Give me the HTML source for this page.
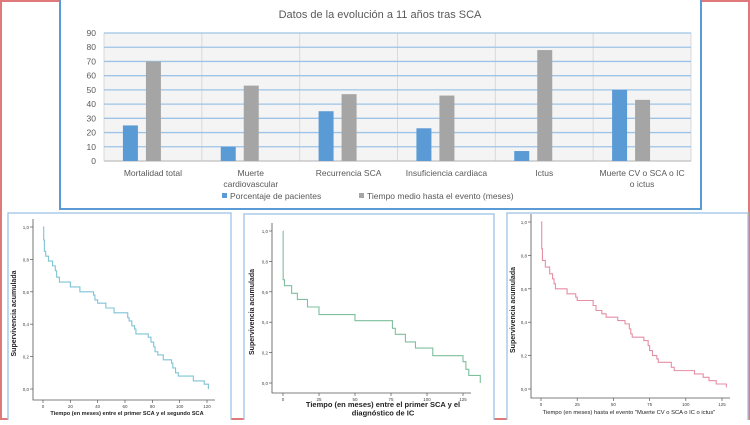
<!DOCTYPE html>
<html><head><meta charset="utf-8">
<style>
html,body{margin:0;padding:0;background:#fff;}
body{width:750px;height:420px;overflow:hidden;font-family:"Liberation Sans",sans-serif;}
svg text{font-family:"Liberation Sans",sans-serif;}
</style></head>
<body>
<svg id="s" width="750" height="420" xmlns="http://www.w3.org/2000/svg">
<rect x="1" y="1" width="748" height="418" fill="#fff" stroke="#e07a7a" stroke-width="2"/>
<g id="bar">
<rect x="60" y="-2" width="641" height="211" fill="#fff" stroke="#5b9bd5" stroke-width="2"/>
<text x="380" y="18" text-anchor="middle" font-size="11" fill="#595959">Datos de la evolución a 11 años tras SCA</text>
</g>
<g id="km1"></g>
<g id="km2"></g>
<g id="km3"></g>
</svg>
<script>
var categories=[["Mortalidad total"],["Muerte","cardiovascular"],["Recurrencia SCA"],["Insuficiencia cardiaca"],["Ictus"],["Muerte CV o SCA o IC","o ictus"]];
var pctValues=[25,10,35,23,7,50];
var timeValues=[70,53,47,46,78,43];
var yTicks=[0,10,20,30,40,50,60,70,80,90];

var km1Times=[0,0.5,1,2,4,7,9,10,12,20,27,37,38,40,46,52,62,63,65,67,68,77,79,81,82,84,88,94,95,97,99,110,118,121];
var km1Surv=[1,0.92,0.85,0.82,0.79,0.76,0.73,0.69,0.66,0.63,0.60,0.58,0.55,0.53,0.50,0.47,0.44,0.42,0.39,0.37,0.34,0.32,0.29,0.26,0.23,0.21,0.18,0.16,0.13,0.10,0.08,0.05,0.03,0.0];
var km1XTicks=[0,20,40,60,80,100,120];
var km2Times=[0,0.1,1,6,10,17,25,50,76,78,85,92,104,125,127,129,137];
var km2Surv=[1,0.68,0.64,0.59,0.55,0.50,0.45,0.41,0.36,0.32,0.27,0.23,0.18,0.14,0.09,0.05,0.0];
var km2XTicks=[0,25,50,75,100,125];
var km3Times=[0,0.5,1,3,6,8,9,10,18,24,25,36,38,42,45,53,58,61,62,63,71,74,75,77,80,81,90,92,106,112,116,121,128];
var km3Surv=[1,0.84,0.77,0.73,0.69,0.66,0.63,0.60,0.57,0.55,0.53,0.50,0.47,0.45,0.43,0.41,0.39,0.36,0.33,0.31,0.29,0.26,0.23,0.20,0.18,0.16,0.13,0.11,0.09,0.07,0.05,0.03,0.01];
var km3XTicks=[0,25,50,75,100,125];
var kmYTicks=["0,0","0,2","0,4","0,6","0,8","1,0"];

var NS="http://www.w3.org/2000/svg";
function mk(parent,tag,attrs,txt){var e=document.createElementNS(NS,tag);for(var k in attrs)e.setAttribute(k,attrs[k]);if(txt!==undefined)e.textContent=txt;parent.appendChild(e);return e;}

// Bar chart
(function(){
var g=document.getElementById('bar');
var L=104,R=691,T=33,B=161;
function y(v){return B-(v/90)*(B-T);}
var cw=(R-L)/categories.length;
function cx(i){return L+cw*(i+0.5);}
var bg=mk(g,'rect',{x:L,y:T,width:R-L,height:B-T,fill:'#f4f4f4'});


for(var i=0;i<=categories.length;i++){var l=mk(g,'line',{x1:L+cw*i,x2:L+cw*i,y1:T,y2:B,stroke:'#d9d9d9','stroke-width':1});

}
yTicks.forEach(function(t){
var l=mk(g,'line',{x1:L,x2:R,y1:y(t),y2:y(t),stroke:t===0?'#bfbfbf':'#9dc3e6','stroke-width':1.3});


var tx=mk(g,'text',{x:96,y:y(t)+3,'text-anchor':'end','font-size':8.5,fill:'#595959'},t);


});
categories.forEach(function(c,i){
var b=mk(g,'rect',{x:cx(i)-30,y:y(pctValues[i]),width:15,height:B-y(pctValues[i]),fill:'#5b9bd5'});


var b2=mk(g,'rect',{x:cx(i)-7,y:y(timeValues[i]),width:15,height:B-y(timeValues[i]),fill:'#a5a5a5'});


c.forEach(function(line,j){
var t=mk(g,'text',{x:cx(i),y:176+j*11,'text-anchor':'middle','font-size':8.5,fill:'#595959'},line);


});
});
var lg=mk(g,'g',{});


var s1=mk(lg,'rect',{x:222,y:193,width:5,height:5,fill:'#5b9bd5'});


var t1=mk(lg,'text',{x:230,y:199,'font-size':8.5,fill:'#595959'},'Porcentaje de pacientes');


var s2=mk(lg,'rect',{x:359,y:193,width:5,height:5,fill:'#a5a5a5'});


var t2=mk(lg,'text',{x:367,y:199,'font-size':8.5,fill:'#595959'},'Tiempo medio hasta el evento (meses)');


})();

function km(id,o){
var g=document.getElementById(id);
var fr=mk(g,'rect',{x:o.fx,y:o.fy,width:o.fw,height:o.fh,fill:'#fff',stroke:'#9dc3e6','stroke-width':1.3});


function X(t){return o.x0+(t/o.xMaxTick)*(o.xMaxPx-o.x0);}
function Y(v){return o.y0+(1-v)*(o.y1-o.y0);}
var ax=mk(g,'path',{d:'M'+o.ax+' '+(o.y0-8)+' V'+o.axY+' H'+(o.xMaxPx+8),fill:'none',stroke:'#555','stroke-width':0.8});


kmYTicks.forEach(function(lbl,i){
var yy=Y(i*0.2);
mk(g,'line',{x1:o.ax-3,x2:o.ax,y1:yy,y2:yy,stroke:'#555','stroke-width':0.7});
var t=mk(g,'text',{x:o.ax-4,y:yy+2,'text-anchor':'end','font-size':4.5,fill:'#444'},lbl);


});
o.xt.forEach(function(v){
var xx=X(v);
mk(g,'line',{x1:xx,x2:xx,y1:o.axY,y2:o.axY+3,stroke:'#555','stroke-width':0.7});
var t=mk(g,'text',{x:xx,y:o.axY+8,'text-anchor':'middle','font-size':4.5,fill:'#444'},v);


});
var d='M'+X(o.times[0])+' '+Y(o.surv[0]);
for(var i=1;i<o.times.length;i++){d+=' H'+X(o.times[i])+' V'+Y(o.surv[i]);}
var p=mk(g,'path',{d:d,fill:'none',stroke:o.color,'stroke-width':1.1});


var yt=mk(g,'text',{x:0,y:0,'font-size':7,'font-weight':'bold',fill:'#222','text-anchor':'middle',transform:'translate('+o.ytx+','+((o.y0+o.axY)/2)+') rotate(-90)'},'Supervivencia acumulada');


o.title.forEach(function(line,j){
var t=mk(g,'text',{x:o.tx,y:o.ty+j*o.tfs*1.1,'text-anchor':'middle','font-size':o.tfs,'font-weight':o.tw,fill:'#222'},line);


});
}
km('km1',{fx:8,fy:213,fw:223,fh:210,ax:33,axY:400,x0:43,xMaxTick:120,xMaxPx:207,y0:227,y1:389,times:km1Times,surv:km1Surv,xt:km1XTicks,color:'#7ec4d6',ytx:16,title:['Tiempo (en meses) entre el primer SCA y el segundo SCA'],tx:127,ty:415,tfs:5.6,tw:'bold'});
km('km2',{fx:244,fy:214,fw:250,fh:210,ax:272,axY:393,x0:283,xMaxTick:125,xMaxPx:463,y0:231,y1:383,times:km2Times,surv:km2Surv,xt:km2XTicks,color:'#7fbf9e',ytx:254,title:['Tiempo (en meses) entre el primer SCA y el','diagnóstico de IC'],tx:383,ty:407,tfs:7.5,tw:'bold'});
km('km3',{fx:507,fy:213,fw:241,fh:210,ax:531,axY:398,x0:541,xMaxTick:125,xMaxPx:722,y0:222,y1:389,times:km3Times,surv:km3Surv,xt:km3XTicks,color:'#e58fa5',ytx:515,title:['Tiempo (en meses) hasta el evento "Muerte CV o SCA o IC o ictus"'],tx:629,ty:414,tfs:5.8,tw:'normal'});
</script>
</body></html>
